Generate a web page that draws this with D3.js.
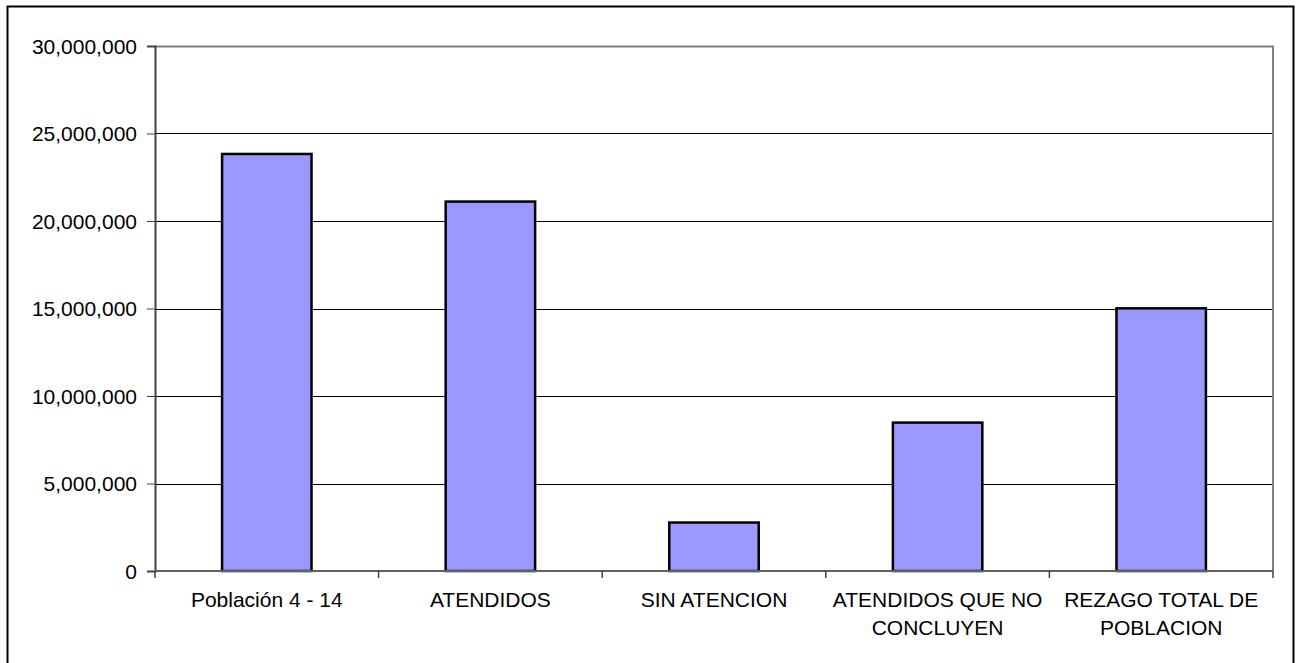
<!DOCTYPE html>
<html lang="es">
<head>
  <meta charset="UTF-8">
  <title>Rezago</title>
  <script src="https://cdn.jsdelivr.net/npm/d3@7/dist/d3.min.js"></script>
  <style>
    body { margin: 0; background: #fff; }
    text { font-family: 'Liberation Sans', Arial, sans-serif; fill: #000; }
  </style>
</head>
<body>
  <div id="chart"></div>
  <script>
    // data
    const categories = ['Población 4 - 14', 'ATENDIDOS', 'SIN ATENCION', 'ATENDIDOS QUE NO|CONCLUYEN', 'REZAGO TOTAL DE|POBLACION'];
    const values = [23830000, 21110000, 2770000, 8480000, 15010000];
    const yTicks = [0, 5000000, 10000000, 15000000, 20000000, 25000000, 30000000];

    const W = 1298, H = 663;
    const margin = { top: 46, right: 25, bottom: 92, left: 155 };
    const width = 1273 - margin.left, height = 571 - margin.top;

    const svg = d3.select('#chart').append('svg')
      .attr('width', W).attr('height', H);

    // outer frame
    svg.append('rect')
      .attr('x', 7.5).attr('y', 6.5)
      .attr('width', 1286).attr('height', 670)
      .attr('fill', 'none').attr('stroke', '#000').attr('stroke-width', 2);

    const g = svg.append('g').attr('transform', `translate(${margin.left},${margin.top})`);

    const x = d3.scaleBand().domain(categories).range([0, width]).paddingInner(0).paddingOuter(0);
    const y = d3.scaleLinear().domain([0, 30000000]).range([height, 0]);

    // gridlines
    g.selectAll('.grid').data(yTicks.slice(1, -1)).enter().append('line')
      .attr('x1', 0).attr('x2', width)
      .attr('y1', d => Math.round(y(d)) + 0.5).attr('y2', d => Math.round(y(d)) + 0.5)
      .attr('stroke', '#000').attr('stroke-width', 1);

    // plot frame (top/right)
    g.append('path')
      .attr('d', `M0,0.5H${width}V${height}`)
      .attr('fill', 'none').attr('stroke', '#808080').attr('stroke-width', 2);

    // bars
    const bw = x.bandwidth() * 0.4;
    g.selectAll('.bar').data(values).enter().append('rect')
      .attr('class', 'bar')
      .attr('x', (d, i) => x(categories[i]) + (x.bandwidth() - bw) / 2)
      .attr('y', d => y(d))
      .attr('width', bw)
      .attr('height', d => height - y(d))
      .attr('fill', '#9999FF')
      .attr('stroke', '#000').attr('stroke-width', 2.5);

    // y axis
    const yAxis = d3.axisLeft(y).tickValues(yTicks).tickSize(8).tickPadding(10)
      .tickFormat(d => d === 0 ? '0' : d3.format(',')(d));
    const yg = g.append('g').call(yAxis);
    yg.select('.domain').attr('stroke', '#404040').attr('stroke-width', 2);
    yg.selectAll('.tick line').attr('stroke', '#404040');
    yg.selectAll('.tick text').style('font-size', '21px').attr('dy', '0.35em');

    // x axis
    const xg = g.append('g').attr('transform', `translate(0,${height})`);
    xg.append('line').attr('x1', 0).attr('x2', width).attr('y1', 0).attr('y2', 0)
      .attr('stroke', '#606060').attr('stroke-width', 2);
    const bounds = categories.map(c => x(c)).concat([width]);
    xg.selectAll('.xt').data(bounds).enter().append('line')
      .attr('x1', d => d).attr('x2', d => d).attr('y1', 0).attr('y2', 7)
      .attr('stroke', '#404040').attr('stroke-width', 1.5);

    const labels = xg.selectAll('.xl').data(categories).enter().append('text')
      .attr('text-anchor', 'middle')
      .attr('transform', d => `translate(${x(d) + x.bandwidth() / 2},36)`)
      .style('font-size', '21px');
    labels.each(function (d) {
      d.split('|').forEach((line, i) => {
        d3.select(this).append('tspan').attr('x', 0).attr('y', i * 27.5).text(line);
      });
    });
  </script>
</body>
</html>
